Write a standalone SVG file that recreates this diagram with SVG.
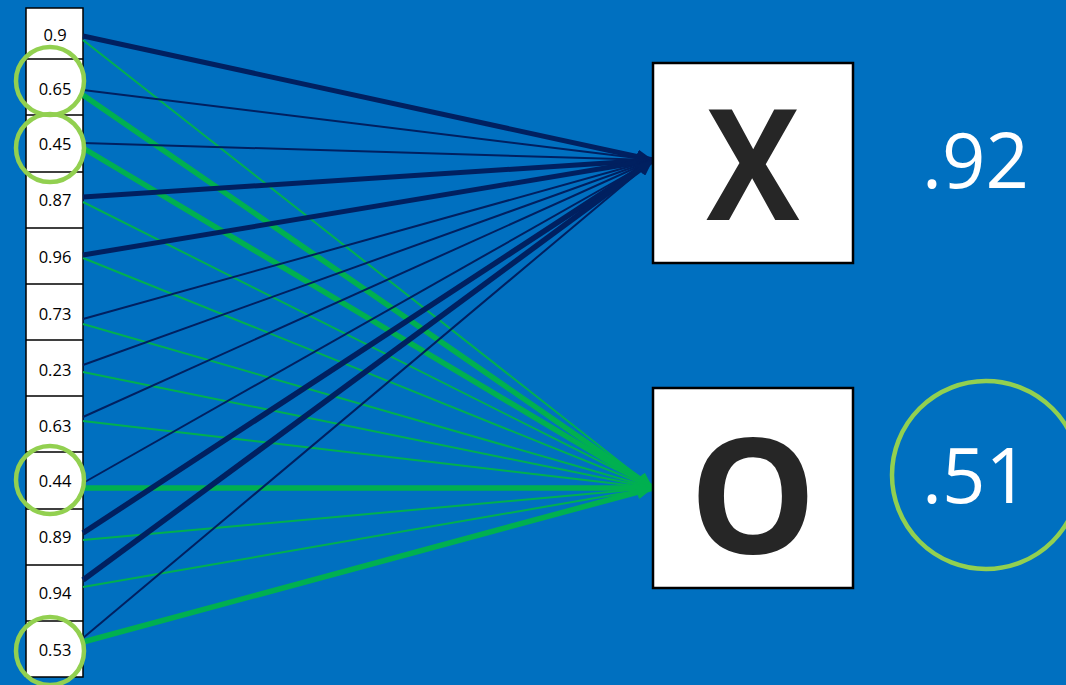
<svg xmlns="http://www.w3.org/2000/svg" width="1066" height="685" viewBox="0 0 1066 685">
<defs>
<marker id="ad" markerUnits="userSpaceOnUse" markerWidth="18" markerHeight="14" refX="16" refY="7" orient="auto"><path d="M0,0 L16,7 L0,14 z" fill="#002060"/></marker>
<marker id="ag" markerUnits="userSpaceOnUse" markerWidth="18" markerHeight="14" refX="16" refY="7" orient="auto"><path d="M0,0 L16,7 L0,14 z" fill="#00B050"/></marker>
<style>
.cell{fill:#fff;stroke:#000;stroke-width:1.5}
.ct{font-family:"Open Sans",sans-serif;font-size:16.5px;fill:#000;text-anchor:middle}
.d{stroke:#002060;fill:none;marker-end:url(#ad)}
.g{stroke:#00B050;fill:none;marker-end:url(#ag)}
.hl{fill:none;stroke:#92D050;stroke-width:4.5}
.box{fill:#fff;stroke:#000;stroke-width:2.5}
.big{font-family:"Open Sans",sans-serif;font-weight:bold;font-size:160px;fill:#262626;text-anchor:middle}
.score{font-family:"Open Sans",sans-serif;font-weight:400;font-size:76px;fill:#fff}
</style>
</defs>
<rect width="1066" height="685" fill="#0070C0"/>
<g id="inputs">
<rect class="cell" x="26" y="8" width="57" height="669"/>
<path d="M26,59H83M26,115H83M26,172H83M26,228H83M26,284H83M26,340H83M26,396H83M26,452H83M26,509H83M26,565H83M26,621H83" stroke="#000" stroke-width="1.5"/>
<text class="ct" x="55" y="41">0.9</text>
<text class="ct" x="55" y="95">0.65</text>
<text class="ct" x="55" y="150">0.45</text>
<text class="ct" x="55" y="206">0.87</text>
<text class="ct" x="55" y="263">0.96</text>
<text class="ct" x="55" y="320">0.73</text>
<text class="ct" x="55" y="376">0.23</text>
<text class="ct" x="55" y="432">0.63</text>
<text class="ct" x="55" y="487">0.44</text>
<text class="ct" x="55" y="543">0.89</text>
<text class="ct" x="55" y="599">0.94</text>
<text class="ct" x="55" y="656">0.53</text>
</g>
<g id="connectors">
<line class="g" x1="83" y1="40" x2="653" y2="488" stroke-width="2"/>
<line class="g" x1="83" y1="95" x2="653" y2="488" stroke-width="5.5"/>
<line class="g" x1="83" y1="148" x2="653" y2="488" stroke-width="5.5"/>
<line class="g" x1="83" y1="202" x2="653" y2="488" stroke-width="2"/>
<line class="g" x1="83" y1="258" x2="653" y2="488" stroke-width="2"/>
<line class="g" x1="83" y1="324" x2="653" y2="488" stroke-width="2"/>
<line class="g" x1="83" y1="372" x2="653" y2="488" stroke-width="2"/>
<line class="g" x1="83" y1="421" x2="653" y2="488" stroke-width="2"/>
<line class="g" x1="83" y1="488" x2="653" y2="488" stroke-width="5.5"/>
<line class="g" x1="83" y1="540" x2="653" y2="488" stroke-width="2"/>
<line class="g" x1="83" y1="587" x2="653" y2="488" stroke-width="2"/>
<line class="g" x1="83" y1="642" x2="653" y2="488" stroke-width="5.5"/>
<line class="d" x1="83" y1="36" x2="653" y2="160" stroke-width="5"/>
<line class="d" x1="83" y1="90" x2="653" y2="160" stroke-width="2"/>
<line class="d" x1="83" y1="143" x2="653" y2="160" stroke-width="2"/>
<line class="d" x1="83" y1="197" x2="653" y2="160" stroke-width="5"/>
<line class="d" x1="83" y1="255" x2="653" y2="160" stroke-width="5"/>
<line class="d" x1="83" y1="319" x2="653" y2="160" stroke-width="2"/>
<line class="d" x1="83" y1="365" x2="653" y2="160" stroke-width="2"/>
<line class="d" x1="83" y1="417" x2="653" y2="160" stroke-width="2"/>
<line class="d" x1="83" y1="483" x2="653" y2="160" stroke-width="2"/>
<line class="d" x1="83" y1="533" x2="653" y2="160" stroke-width="5.5"/>
<line class="d" x1="83" y1="580" x2="653" y2="160" stroke-width="5.5"/>
<line class="d" x1="83" y1="638" x2="653" y2="160" stroke-width="2"/>
</g>
<g id="highlights">
<circle class="hl" cx="50" cy="81" r="34"/>
<circle class="hl" cx="50" cy="148" r="34"/>
<circle class="hl" cx="50" cy="480" r="34"/>
<circle class="hl" cx="50" cy="651" r="34"/>
</g>
<g id="node-x">
<rect class="box" x="653" y="63" width="200" height="200"/>
<text class="big" x="0" y="0" transform="translate(753,220) scale(0.87,0.96)">X</text>
</g>
<g id="node-o">
<rect class="box" x="653" y="388" width="200" height="200"/>
<text class="big" x="753" y="553">O</text>
</g>
<g id="score-x">
<text class="score" x="922" y="188">.92</text>
</g>
<g id="score-o">
<circle class="hl" cx="986" cy="475" r="94"/>
<text class="score" x="922" y="503">.51</text>
</g>
</svg>
